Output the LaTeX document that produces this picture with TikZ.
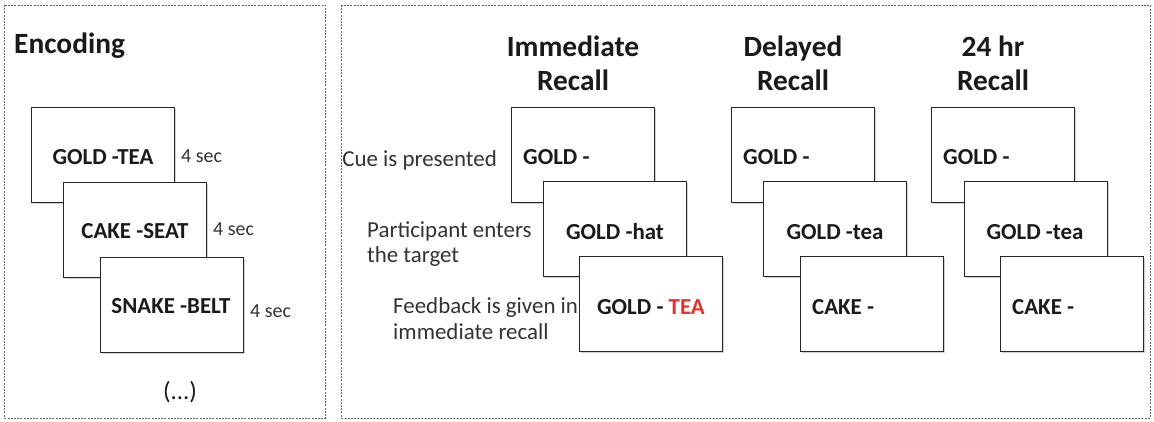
\documentclass[tikz,border=0pt]{standalone}
\usepackage{fontspec}
\setmainfont{Carlito}
\usetikzlibrary{shadows}
\definecolor{txt}{HTML}{1A1A1A}
\definecolor{lbl}{HTML}{333333}
\definecolor{redt}{HTML}{E8302A}
\begin{document}
\begin{tikzpicture}[x=1bp,y=-1bp,
  panel/.style={draw=black!60, line width=0.8bp, dash pattern=on 2bp off 1.2bp},
  card/.style={draw=black!85, line width=1.2bp, fill=white, minimum width=143bp, minimum height=95bp, inner sep=0pt, anchor=north west,
    drop shadow={shadow xshift=1.2bp, shadow yshift=-1.2bp, opacity=0.35, fill=black!50}},
  cardtxt/.style={font=\fontsize{23}{27}\selectfont\bfseries, text=txt, inner sep=0pt},
  title/.style={font=\fontsize{29.5}{34}\selectfont\bfseries, text=txt, align=center, inner sep=0pt},
  side/.style={font=\fontsize{23}{26}\selectfont, text=lbl, align=left, inner sep=0pt},
  secs/.style={font=\fontsize{20}{22}\selectfont, text=lbl, inner sep=0pt, anchor=west}]
\useasboundingbox (0,0) rectangle (1154,421);
\fill[white] (0,0) rectangle (1154,421);
% panels
\draw[panel] (4.5,5) rectangle (325.5,418);
\draw[panel] (341.5,5) rectangle (1150,418);
% Encoding
\node[title, anchor=west] (enc) at (14,46) {Encoding};
\node[card] (e1) at (31,107) {};
\node[cardtxt] (e1t) at (103,157) {GOLD -TEA};
\node[secs] (s1) at (181,156) {4 sec};
\node[card] (e2) at (63,182) {};
\node[cardtxt] (e2t) at (135,231) {CAKE -SEAT};
\node[secs] (s2) at (213,229) {4 sec};
\node[card] (e3) at (100,257) {};
\node[cardtxt] (e3t) at (171,306) {SNAKE -BELT};
\node[secs] (s3) at (250,311) {4 sec};
\node[font=\fontsize{25}{28}\selectfont, text=txt, inner sep=0pt] (dots) at (180,392) {(...)};
% Immediate recall
\node[title] (t1) at (573,63) {Immediate\\Recall};
\node[card] (i1) at (511,107) {};
\node[cardtxt, anchor=west] (i1t) at (523,157) {GOLD -};
\node[card] (i2) at (543,181) {};
\node[cardtxt] (i2t) at (615,232) {GOLD -hat};
\node[card] (i3) at (579,256) {};
\node[cardtxt] (i3t) at (651,307) {GOLD - \textcolor{redt}{TEA}};
\node[side, anchor=east] (l1) at (497,160) {Cue is presented};
\node[side, anchor=north west] (l2) at (367,221) {Participant enters\\the target};
\node[side, anchor=north west] (l3) at (393,297) {Feedback is given in\\immediate recall};
% Delayed recall
\node[title] (t2) at (793,63) {Delayed\\Recall};
\node[card] (d1) at (731,107) {};
\node[cardtxt, anchor=west] (d1t) at (743,157) {GOLD -};
\node[card] (d2) at (763,181) {};
\node[cardtxt] (d2t) at (835,232) {GOLD -tea};
\node[card] (d3) at (800,256) {};
\node[cardtxt, anchor=west] (d3t) at (812,307) {CAKE -};
% 24 hr recall
\node[title] (t3) at (993,63) {24 hr\\Recall};
\node[card] (h1) at (931,107) {};
\node[cardtxt, anchor=west] (h1t) at (943,157) {GOLD -};
\node[card] (h2) at (964,181) {};
\node[cardtxt] (h2t) at (1035,232) {GOLD -tea};
\node[card] (h3) at (1000,256) {};
\node[cardtxt, anchor=west] (h3t) at (1012,307) {CAKE -};
\end{tikzpicture}
\end{document}
